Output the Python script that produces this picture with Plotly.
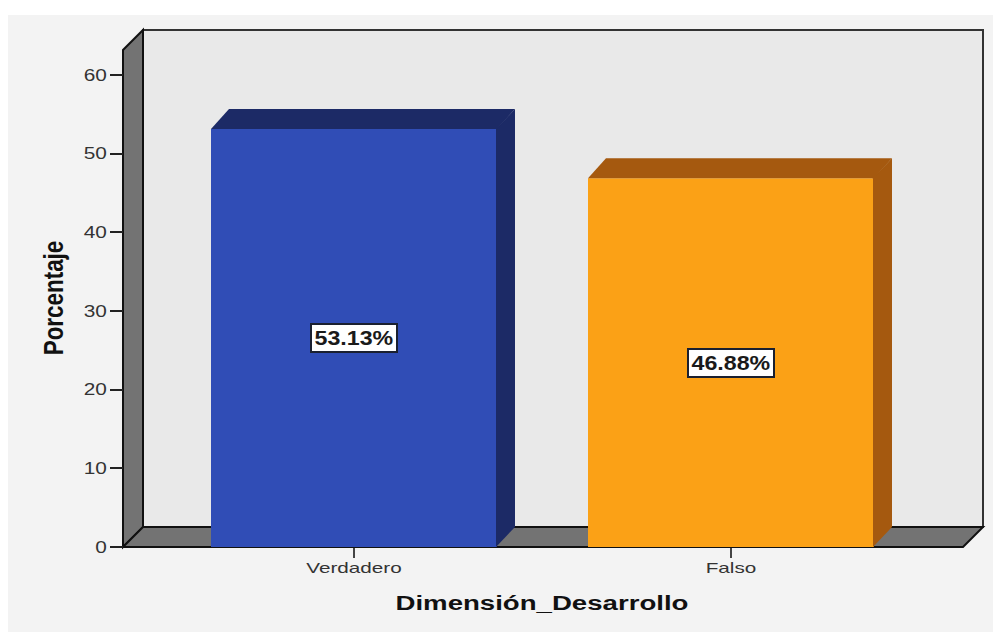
import plotly.graph_objects as go

categories = ["Verdadero", "Falso"]
values = [53.13, 46.88]
labels = ["53.13%", "46.88%"]
y_ticks = [0, 10, 20, 30, 40, 50, 60]
front_colors = ["#304DB6", "#FBA116"]
side_colors = ["#1C2A66", "#A5590F"]
top_colors = ["#1C2A66", "#A5590F"]

W, H = 993, 632
# pixel geometry of the chart box
PL, PR, PT, PB = 118, 986, 26, 552      # plot area (slightly larger than the box so lines aren't clipped)
X0_PX, X_UNIT = 354.0, 377.0            # pixel of category 0, pixels per category
Y0_PX, Y_UNIT = 547.0, 7.867            # pixel of value 0, pixels per unit
DEPTH = 20.0
xr = [(PL - X0_PX) / X_UNIT, (PR - X0_PX) / X_UNIT]
yr = [(Y0_PX - PB) / Y_UNIT, (Y0_PX - PT) / Y_UNIT]
dx, dy = DEPTH / X_UNIT, DEPTH / Y_UNIT
bar_dx = 18.0 / X_UNIT
bw = 286.0 / X_UNIT
x_left = (123 - X0_PX) / X_UNIT
x_right = (963 - X0_PX) / X_UNIT
y_top = (Y0_PX - 50) / Y_UNIT


def poly(pts):
    return "M " + " L ".join(f"{a},{b}" for a, b in pts) + " Z"


fig = go.Figure()
xs = list(range(len(categories)))
for i, v in zip(xs, values):
    l, r = i - bw / 2, i + bw / 2
    # start the side face a hair inside the bar so no wall line shows at the seam
    s = r - 1.0 / X_UNIT
    fig.add_trace(go.Scatter(x=[s, r + bar_dx, r + bar_dx, s, s], y=[0, dy, v + dy, v, 0], fill="toself",
                             fillcolor=side_colors[i], mode="lines", line=dict(width=0), hoverinfo="skip"))
    fig.add_trace(go.Scatter(x=[l, l + bar_dx, r + bar_dx, r, l], y=[v, v + dy, v + dy, v, v], fill="toself",
                             fillcolor=top_colors[i], mode="lines", line=dict(width=0), hoverinfo="skip"))
fig.add_trace(go.Bar(x=xs, y=values, width=bw, marker=dict(color=front_colors, line=dict(width=0)), hoverinfo="skip"))

shapes = [
    dict(type="rect", xref="paper", yref="paper", x0=(8 - PL) / (PR - PL), x1=(W - PL) / (PR - PL),
         y0=(PB - H) / (PB - PT), y1=(PB - 15) / (PB - PT), fillcolor="#F3F3F3", line=dict(width=0), layer="below"),
    dict(type="path", xref="x", yref="y", layer="below", fillcolor="#E9E9E9", line=dict(color="#333333", width=2),
         path=poly([(x_left + dx, dy), (x_right + dx, dy), (x_right + dx, y_top + dy), (x_left + dx, y_top + dy)])),
    dict(type="path", xref="x", yref="y", layer="below", fillcolor="#737373", line=dict(color="#111111", width=2),
         path=poly([(x_left, 0), (x_left + dx, dy), (x_left + dx, y_top + dy), (x_left, y_top)])),
    dict(type="path", xref="x", yref="y", layer="below", fillcolor="#737373", line=dict(color="#111111", width=2),
         path=poly([(x_left, 0), (x_right, 0), (x_right + dx, dy), (x_left + dx, dy)])),
]

annotations = [
    dict(x=i, y=v / 2, text=t, showarrow=False, bgcolor="#FFFFFF", bordercolor="#1A2030",
         borderwidth=2, borderpad=1, width=82, height=24,
         font=dict(family="Liberation Sans", size=20, weight=700, color="#1A1A1A"))
    for i, v, t in zip(xs, values, labels)
]

fig.update_layout(
    width=W, height=H, paper_bgcolor="#FFFFFF", plot_bgcolor="rgba(0,0,0,0)", showlegend=False,
    margin=dict(l=PL, r=W - PR, t=PT, b=H - PB, pad=0), shapes=shapes, annotations=annotations,
    font=dict(family="Liberation Sans", color="#222222"),
    xaxis=dict(range=xr, tickmode="array", tickvals=xs, ticktext=categories, showgrid=False, zeroline=False,
               showline=False, ticks="outside", ticklen=10, tickwidth=2, tickcolor="#444444",
               anchor="free", position=(PB - Y0_PX) / (PB - PT), ticklabelstandoff=-3,
               tickfont=dict(family="Liberation Sans", size=15, color="#333333"),
               title=dict(text="Dimensión_Desarrollo", standoff=20,
                          font=dict(family="Liberation Sans", size=20, weight=700, color="#111111"))),
    yaxis=dict(range=yr, tickmode="array", tickvals=y_ticks, showgrid=False, zeroline=False, showline=False,
               ticks="outside", ticklen=13, tickwidth=1.5, tickcolor="#222222",
               anchor="free", position=(123 - PL) / (PR - PL),
               tickfont=dict(family="Liberation Sans", size=16, color="#333333"),
               title=dict(text="Porcentaje", standoff=16,
                          font=dict(family="Liberation Sans", size=27, weight=700, color="#111111"))),
)

# The reference text is horizontally stretched or squeezed; SVG textLength reproduces that on the real text.
post_script = """
document.body.style.margin = '0';
function stretch(sel, f) {
  document.querySelectorAll(sel).forEach(function (t) {
    t.setAttribute('textLength', t.getComputedTextLength() * f);
    t.setAttribute('lengthAdjust', 'spacingAndGlyphs');
  });
}
function move(sel, dx, dy) {
  document.querySelectorAll(sel).forEach(function (t) {
    t.setAttribute('transform', 'translate(' + dx + ',' + dy + ') ' + (t.getAttribute('transform') || ''));
  });
}
stretch('.xtick text', 1.38);
stretch('.ytick text', 1.3);
stretch('.xtitle', 1.38);
stretch('.ytitle', 0.83);
stretch('.annotation-text', 1.16);
move('.xtitle', -10, 0);
move('.ytitle', 0, 9);
"""
fig.write_html("out.html", post_script=post_script, config={"displayModeBar": False})
